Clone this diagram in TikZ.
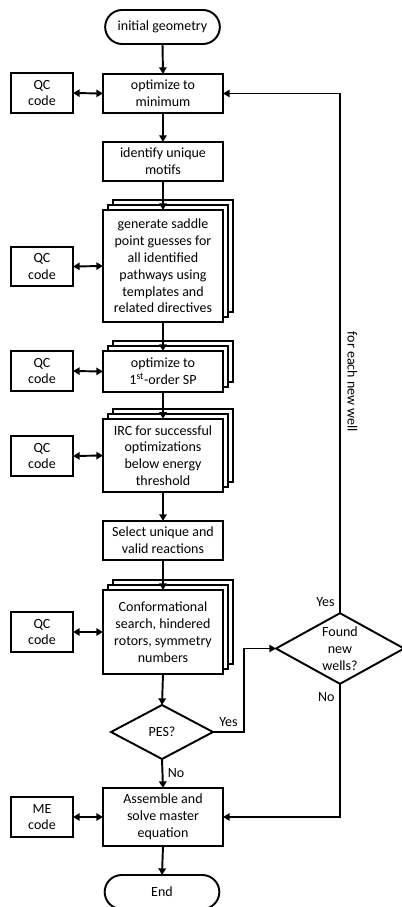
\documentclass[tikz,border=0pt]{standalone}
\usepackage{fontspec}
\setmainfont{Carlito}
\usetikzlibrary{arrows.meta,shapes.geometric,shapes.misc,shadows}

\begin{document}
\begin{tikzpicture}[
        x=0.75pt, y=-0.75pt,
        font=\fontsize{10.5}{12.6}\selectfont,
        block/.style={
            rectangle,
            draw,
            line width=1.45pt,
            fill=white,
            align=center,
            minimum width=90pt,
            minimum height=29.25pt,
            inner sep=2pt,
            outer sep=0pt
        },
        stack/.style={
            block,
            double copy shadow={shadow xshift=3.75pt, shadow yshift=3.75pt}
        },
        qc/.style={block, minimum width=46.5pt, minimum height=29.5pt},
        term/.style={block, rounded rectangle, minimum height=25.5pt},
        decision/.style={
            diamond,
            draw,
            line width=1.45pt,
            fill=white,
            align=center,
            inner sep=0pt,
            outer sep=0pt
        },
        arrow/.style={
            -{Triangle[length=5pt,width=5.5pt]},
            line width=1.45pt
        },
        biarrow/.style={
            {Triangle[length=5pt,width=5.5pt]}-{Triangle[length=5pt,width=5.5pt]},
            line width=1.45pt
        }
    ]
    \useasboundingbox (0,0) rectangle (402,907);

    % main column
    \node[term] (init) at (162.5,27) {initial geometry};
    \node[block] (opt) at (163,93.5) {optimize to\\minimum};
    \node[block] (motifs) at (163,161.5) {identify unique\\motifs};
    \node[stack, minimum height=84pt] (saddle) at (163,266) {generate saddle\\point guesses for\\all identified\\pathways using\\templates and\\related directives};
    \node[stack, minimum height=30.75pt] (sp) at (163,371.5) {optimize to\\1\textsuperscript{st}-order SP};
    \node[stack, minimum height=55pt] (irc) at (163,455.5) {IRC for successful\\optimizations\\below energy\\threshold};
    \node[block] (select) at (163,540.5) {Select unique and\\valid reactions};
    \node[stack, minimum height=63pt] (conf) at (163,632) {Conformational\\search, hindered\\rotors, symmetry\\numbers};
    \node[decision, minimum width=76.5pt, minimum height=40.5pt] (pes) at (162,732) {PES?};
    \node[block, minimum height=43.5pt] (assemble) at (163,817) {Assemble and\\solve master\\equation};
    \node[term] (end) at (162,892) {End};

    % decision on the right
    \node[decision, minimum width=96pt, minimum height=53pt,
          label={[align=center]center:Found\\new\\wells?}] (wells) at (340,648.5) {};

    % codes on the left
    \node[qc] (qc1) at (42,93) {QC\\code};
    \node[qc] (qc2) at (42,266.5) {QC\\code};
    \node[qc] (qc3) at (42,371) {QC\\code};
    \node[qc] (qc4) at (42,456) {QC\\code};
    \node[qc] (qc5) at (42,632) {QC\\code};
    \node[qc] (me) at (42,817) {ME\\code};

    \draw[arrow] (init.south) -- (opt.north);
    \draw[arrow] (opt.south) -- (motifs.north);
    \draw[arrow] (motifs.south) -- (saddle.north);
    \draw[arrow] (saddle.south) -- (sp.north);
    \draw[arrow] (sp.south) -- (irc.north);
    \draw[arrow] (irc.south) -- (select.north);
    \draw[arrow] (select.south) -- (conf.north);
    \draw[arrow] (conf.south) -- (pes.north);
    \draw[arrow] (pes.south) -- node[right] {No} (assemble.north);
    \draw[arrow] (assemble.south) -- (end.north);

    \draw[biarrow] (qc1.east) -- (opt.west);
    \draw[biarrow] (qc2.east) -- (saddle.west);
    \draw[biarrow] (qc3.east) -- (sp.west);
    \draw[biarrow] (qc4.east) -- (irc.west);
    \draw[biarrow] (qc5.east) -- (conf.west);
    \draw[biarrow] (me.east) -- (assemble.west);

    \draw[arrow] (pes.east) -- node[above] {Yes} ++(31,0) |- (wells.west);
    \draw[arrow] (wells.north) |- node[pos=0.011, left] {Yes}
        node[pos=0.2225, rotate=-90, anchor=south, inner sep=5pt] {for each new well} (opt.east);
    \draw[arrow] (wells.south) |- node[pos=0.05, left] {No} (assemble.east);

\end{tikzpicture}
\end{document}
